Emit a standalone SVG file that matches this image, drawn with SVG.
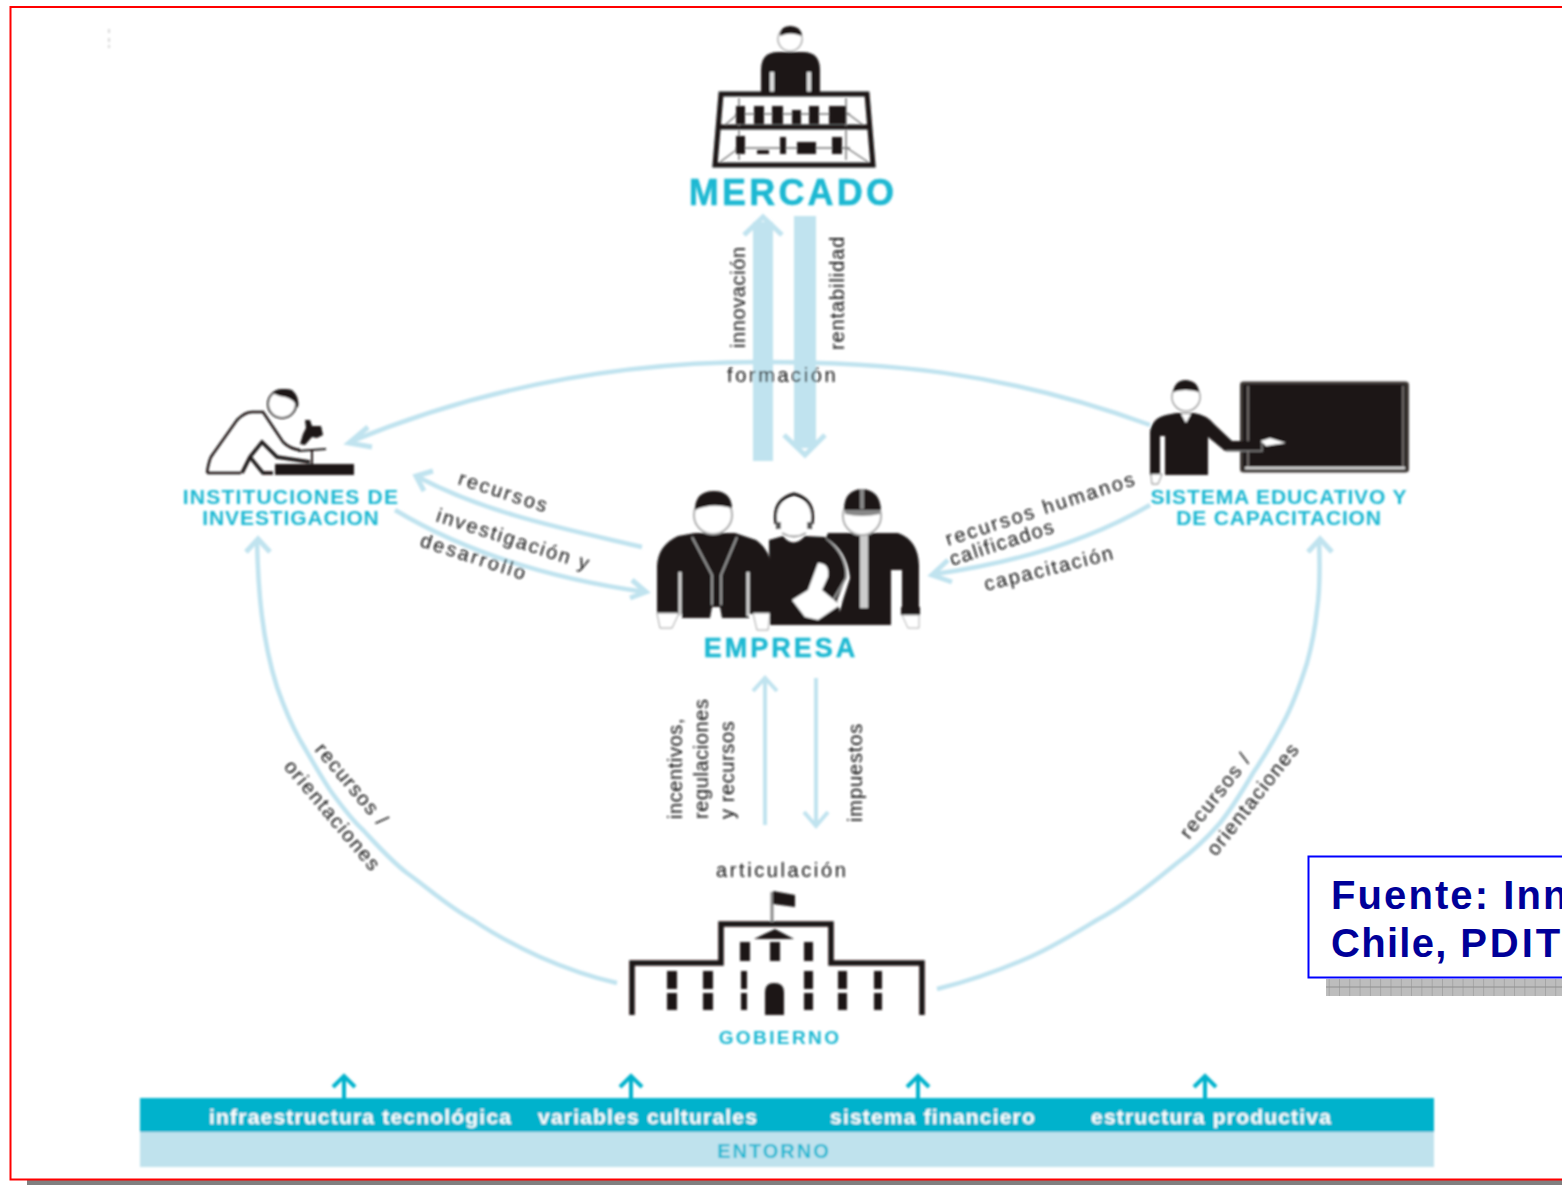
<svg xmlns="http://www.w3.org/2000/svg" width="1562" height="1185" viewBox="0 0 1562 1185">
<defs>
<style>
text{font-family:"Liberation Sans",Arial,sans-serif}
.l{font-size:20px;fill:#111;letter-spacing:.6px}
.t{fill:#1bb8d2;font-weight:bold;text-anchor:middle}
.c{fill:none;stroke:#c0e3ef;stroke-width:4.500}
.h{fill:none;stroke:#c0e3ef;stroke-width:5}
.k{fill:#1a1615}
.w{fill:#fff}
.o{fill:none;stroke:#1a1615}
.b{font-size:21px;fill:#fff;font-weight:bold;letter-spacing:1.2px}
.f{font-size:40px;font-weight:bold;fill:#000099;letter-spacing:2.1px}
</style>
<filter id="s" x="-5%" y="-5%" width="110%" height="110%"><feGaussianBlur stdDeviation="0.8"/></filter>
<pattern id="g" width="10.3" height="10" patternUnits="userSpaceOnUse"><rect width="10.3" height="10" fill="#bdbdbd"/><path d="M0 0V10M0 7H10.3" stroke="#8f8f8f" stroke-width="1"/></pattern>
</defs>
<rect width="1562" height="1185" fill="#fff"/>
<rect x="27" y="1180" width="1535" height="5" fill="#808080"/>
<path d="M1562 7H10.500V1179.500H1562" fill="none" stroke="#f00" stroke-width="2"/>
<g filter="url(#s)">
<path d="M109 29V33M109 38V42M109 45V48" stroke="#ccc" stroke-width="1.500"/>
<g id="connectors">
<rect x="753" y="222" width="20" height="239" fill="#c0e3ef"/>
<path class="h" d="M744 235L763 217L782 235"/>
<rect x="794" y="216" width="22" height="232" fill="#c0e3ef"/>
<path class="h" d="M784 435L805 455L825 435"/>
<path class="c" d="M1150 425C1000 370 880 362 760 362C620 362 480 388 350 442"/>
<path class="h" d="M368 427L349 443L372 447"/>
<path class="c" d="M642 547C570 530 490 515 418 477"/>
<path class="h" d="M433 471L416 476L424 491"/>
<path class="c" d="M395 510C470 555 560 580 645 592"/>
<path class="h" d="M632 580L646 592L630 598"/>
<path class="c" d="M1150 505C1090 540 1020 562 935 574"/>
<path class="h" d="M948 560L932 575L952 582"/>
<path class="c" d="M257 540C258 590 262 640 277 687C285 710 290 722 300 740C310 757 320 775 330 790C340 804 350 818 363 830C378 846 390 860 407 873C428 888 450 908 473 920C495 935 518 947 540 957C565 968 590 977 617 983"/>
<path class="h" d="M246 552L258 539L270 552"/>
<path class="c" d="M1319 540C1320 565 1320 590 1317 610C1315 630 1312 645 1307 663C1300 685 1293 705 1283 723C1273 742 1264 757 1253 773C1243 790 1232 808 1220 823C1207 838 1192 852 1177 863C1150 885 1125 905 1097 920C1072 935 1048 950 1023 960C995 972 965 982 937 989"/>
<path class="h" d="M1308 552L1320 539L1332 552"/>
<path d="M765 825V680M753 691L765 678L777 691" fill="none" stroke="#c0e3ef" stroke-width="4"/>
<path d="M816 678V824M804 812L816 826L828 812" fill="none" stroke="#c0e3ef" stroke-width="4"/>
</g>
<g id="mercado">
<path class="k" d="M761 94V70Q761 52 778 52H803Q820 52 820 70V94Z"/>
<path d="M772 72V92M809 72V92" stroke="#ddd" stroke-width="4"/>
<circle cx="790" cy="39" r="12" class="w" stroke="#aaa" stroke-width="1.500"/>
<path class="k" d="M780 36Q780 26 790 26Q801 26 802 36Q790 31 780 36Z"/>
<path class="o" stroke-width="5" d="M721 94H867L873 165H715ZM719 127H869"/>
<path d="M739 98V126M846 98V126M725 125L739 113M863 125L847 113M739 130V160M846 130V160M720 162L739 148M868 162L847 148M735 114H850M735 148H850" stroke="#777" stroke-width="1.500" fill="none"/>
<path class="k" d="M736 106h9v18h-9zM754 106h10v18h-10zM772 106h11v18h-11zM792 110h9v14h-9zM809 106h10v18h-10zM829 106h17v18h-17zM736 136h9v18h-9zM757 150h12v4h-12zM780 137h6v17h-6zM797 142h19v12h-19zM832 137h10v17h-10z"/>
<text class="t" x="793" y="205" font-size="36" letter-spacing="3.200" font-weight="normal" stroke="#1bb8d2" stroke-width=".5">MERCADO</text>
</g>
<g id="instituciones">
<path class="o" stroke-width="2.500" fill="#fff" d="M207 473Q209 458 213 454L237 420Q245 412 252 412H263L273 427L283 442Q290 449 300 450M207 473H241"/>
<path class="o" stroke-width="3.500" d="M242 473L250 457L262 442L277 457L310 462M250 457L263 473H273"/>
<circle cx="282" cy="404" r="14" class="w" stroke="#1a1615" stroke-width="2"/>
<path class="k" d="M272 393Q282 387 292 390Q300 397 298 408Q294 399 285 397Q278 396 272 393Z"/>
<path class="k" d="M305 420l5 0l2 6l9 0l2 9l-6 3l-5-1l-7 8l-5-1l3-10l3-6Z"/>
<path class="o" stroke-width="2" d="M298 451L326 449M312 451V464"/>
<rect class="k" x="275" y="464" width="79" height="11"/>
<text class="t" x="291" y="504" font-size="21" letter-spacing="1.200">INSTITUCIONES DE</text>
<text class="t" x="291" y="525" font-size="21" letter-spacing=".9">INVESTIGACION</text>
</g>
<g id="empresa">
<path class="k" d="M657 614V566Q658 545 678 536L695 533H735L756 540Q770 550 771 566V614H749V618H722L720 607H712L710 618H682V614Z"/>
<path d="M680 572V616M748 572V616" stroke="#ddd" stroke-width="3"/>
<path d="M692 537L712 575V605M737 537L721 575V605" fill="none" stroke="#999" stroke-width="2"/>
<path class="w" stroke="#999" d="M657 613H679L672 628H660ZM753 613H770L768 630H757Z"/>
<circle cx="713" cy="515" r="19" class="w" stroke="#aaa" stroke-width="2"/>
<path class="k" d="M695 510Q695 491 714 491Q731 491 732 508Q712 502 695 510Z"/>
<path class="k" d="M769 540L783 536Q793 549 805 536L825 537Q846 555 846 578L837 600L843 625H770Z"/>
<path d="M826 538Q848 556 846 578L833 600" fill="none" stroke="#999" stroke-width="2"/>
<circle cx="794" cy="518" r="19" class="w"/>
<path d="M776 524Q772 500 794 494Q816 500 812 524" fill="none" stroke="#1a1615" stroke-width="3"/>
<path d="M776 522h5v7h-5zM807 522h5v7h-5z" fill="#555"/>
<path d="M782 533Q794 540 806 533" fill="none" stroke="#999" stroke-width="2"/>
<path class="w" d="M818 563Q830 563 828 577L822 590L840 605L818 620L805 617L792 600L808 590Z"/>
<path class="k" d="M828 533H898Q918 540 919 565V608H902V570H891V625H836L843 600L850 578Q847 550 826 538Z"/>
<rect x="860" y="535" width="8" height="73" fill="#ccc"/>
<rect class="k" x="901" y="607" width="19" height="8"/>
<path class="w" stroke="#aaa" d="M902 615H919V628H908Z"/>
<circle cx="862" cy="516" r="19" class="w" stroke="#aaa" stroke-width="2"/>
<path class="k" d="M844 510Q844 490 862 489Q880 490 881 510Z"/>
<path d="M845 510H880V514Q862 518 845 514Z" fill="#888"/><rect x="860" y="489" width="4" height="20" fill="#888"/>
<text class="t" x="781" y="657" font-size="27" letter-spacing="3" font-weight="normal" stroke="#1bb8d2" stroke-width=".4">EMPRESA</text>
</g>
<g id="sistema">
<rect x="1241.500" y="383" width="166" height="88" rx="2" class="k" stroke="#3f3a38" stroke-width="3"/>
<path d="M1248 386V468H1403V386" fill="none" stroke="#8a8583" stroke-width="1.500"/>
<path d="M1245 468H1405" stroke="#ddd" stroke-width="2.500"/>
<path class="k" d="M1150 475V432Q1152 418 1166 415L1176 413H1194Q1207 415 1214 424L1232 441H1262V451H1225L1208 437V475H1165V436H1160V475Z"/>
<path d="M1262 440V451H1226" fill="none" stroke="#888" stroke-width="1.500"/>
<path d="M1181 414L1186 423L1191 414Z" class="w"/>
<circle cx="1186" cy="397" r="14" class="w" stroke="#999" stroke-width="1.500"/>
<path class="k" d="M1173 392Q1175 380 1186 380Q1198 381 1199 392Q1185 388 1173 392Z"/>
<path class="w" d="M1261 441L1270 438L1286 443L1266 446Z"/>
<path class="w" stroke="#777" d="M1151 474H1162L1158 484H1152Z"/>
<text class="t" x="1279" y="504" font-size="21" letter-spacing=".9">SISTEMA EDUCATIVO Y</text>
<text class="t" x="1279" y="525" font-size="21" letter-spacing=".85">DE CAPACITACION</text>
</g>
<g id="gobierno">
<path class="o" stroke-width="5.500" d="M632 1015V963H721V924H831V963H922V1015"/>
<path d="M772 922V892" stroke="#888" stroke-width="3"/>
<path class="k" d="M773 891L795 895V907L773 904Z"/>
<path class="k" d="M754 939L775 929L794 939Z"/>
<path class="k" d="M740 942h10v19h-10zM770 942h10v19h-10zM804 942h9v19h-9zM667 971h10v18h-10zM703 971h10v18h-10zM741 971h6v18h-6zM804 971h9v18h-9zM838 971h9v18h-9zM874 971h8v18h-8zM667 993h10v17h-10zM703 993h10v17h-10zM741 993h6v17h-6zM804 993h9v17h-9zM838 993h9v17h-9zM874 993h8v17h-8zM765 1015V992Q765 983 774 983Q784 983 784 992V1015Z"/>
<text class="t" x="780" y="1044" font-size="19" letter-spacing="2.400">GOBIERNO</text>
</g>
<g id="entorno">
<rect x="140" y="1098" width="1294" height="34" fill="#00b2cc"/>
<rect x="140" y="1132" width="1294" height="35" fill="#bfe2ed"/>
<path d="M344 1098V1076M333 1087L344 1076L355 1087M631 1098V1076M620 1087L631 1076L642 1087M918 1098V1076M907 1087L918 1076L929 1087M1205 1098V1076M1194 1087L1205 1076L1216 1087" fill="none" stroke="#00b2cc" stroke-width="4"/>
<text class="b" x="209" y="1124">infraestructura tecnológica</text>
<text class="b" x="538" y="1124">variables culturales</text>
<text class="b" x="830" y="1124">sistema financiero</text>
<text class="b" x="1091" y="1124">estructura productiva</text>
<text class="t" x="774" y="1158" font-size="20" letter-spacing="2">ENTORNO</text>
</g>
<g id="labels">
<text class="l" transform="translate(745 348) rotate(-90)">innovación</text>
<text class="l" transform="translate(844 350) rotate(-90)" style="letter-spacing:.9px">rentabilidad</text>
<text class="l" x="727" y="382" style="letter-spacing:2.600px">formación</text>
<text class="l" transform="translate(457 484) rotate(18)" style="letter-spacing:2.200px">recursos</text>
<text class="l" transform="translate(435 521) rotate(18)" style="letter-spacing:2px">investigación y</text>
<text class="l" transform="translate(419 546) rotate(18)" style="letter-spacing:2.400px">desarrollo</text>
<text class="l" transform="translate(948 546) rotate(-18)" style="letter-spacing:2.200px">recursos humanos</text>
<text class="l" transform="translate(952 566) rotate(-18)" style="letter-spacing:1.500px">calificados</text>
<text class="l" transform="translate(986 591) rotate(-14)" style="letter-spacing:1.900px">capacitación</text>
<text class="l" transform="translate(682 819) rotate(-90)">incentivos,</text>
<text class="l" transform="translate(708 819) rotate(-90)">regulaciones</text>
<text class="l" transform="translate(734 819) rotate(-90)">y recursos</text>
<text class="l" transform="translate(862 822) rotate(-90)" style="letter-spacing:.9px">impuestos</text>
<text class="l" x="716" y="877" style="letter-spacing:2.600px">articulación</text>
<text class="l" transform="translate(314 750) rotate(50)" style="letter-spacing:1.400px">recursos /</text>
<text class="l" transform="translate(283 767) rotate(50)" style="letter-spacing:1.500px">orientaciones</text>
<text class="l" transform="translate(1189 840) rotate(-52)" style="letter-spacing:1.500px">recursos /</text>
<text class="l" transform="translate(1216 857) rotate(-52)" style="letter-spacing:1.400px">orientaciones</text>
</g>
</g>
<g id="fuente">
<rect x="1326" y="979" width="236" height="17" fill="url(#g)"/>
<rect x="1308.500" y="856.500" width="270" height="121" fill="#fff" stroke="#00f" stroke-width="2"/>
<text class="f" x="1331" y="909">Fuente: Inn</text>
<text class="f" x="1331" y="957" style="letter-spacing:1.300px">Chile, <tspan style="letter-spacing:3px">PDIT</tspan></text>
</g>
</svg>
